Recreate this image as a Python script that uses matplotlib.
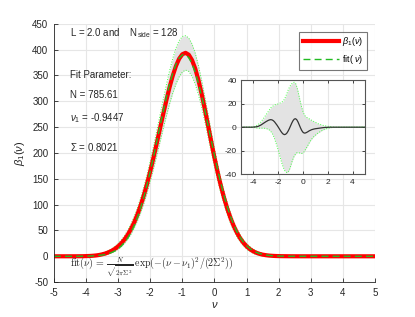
import matplotlib
matplotlib.use("Agg")
import matplotlib.pyplot as plt
import numpy as np

plt.rcParams['font.family'] = ['Liberation Sans', 'DejaVu Sans']
plt.rcParams['mathtext.fontset'] = 'custom'
plt.rcParams['mathtext.rm'] = 'Liberation Sans'
plt.rcParams['mathtext.it'] = 'Liberation Sans:italic'
plt.rcParams['axes.unicode_minus'] = False

# fit parameters shown on the chart
N_fit = 785.61
nu_1 = -0.9447
Sigma = 0.8021

# sample points in nu, -5 ... 5 step 0.1
nu = np.round(np.linspace(-5.0, 5.0, 101), 2)

# residual beta_1 - fit
residual = [0, 0, 0, 0, 0, 0, 0, 0, 0, 0,
            0.1, 0.15, 0.3, 0.5, 0.8, 1.3, 1.8, 2.5, 3.2, 3.9, 4.6,
            5.2, 5.8, 6.2, 6.4, 6.2, 5.6, 4.6, 3.2, 1.8, 0.2,
            -1.5, -3.2, -4.7, -5.8, -6.3, -6.0, -5.0, -3.3, -1.2, 1.2,
            3.6, 5.6, 6.9, 7.2, 6.3, 4.4, 1.9, -0.6, -2.8, -4.3,
            -5.0, -4.9, -4.4, -3.8, -3.1, -2.6, -2.1, -1.8, -1.5, -1.3,
            -1.15, -1.0, -0.85, -0.7, -0.55, -0.4, -0.3, -0.2, -0.15, -0.1,
            -0.05, 0, 0, 0, 0,
            0, 0, 0, 0, 0, 0, 0, 0, 0, 0, 0, 0, 0, 0, 0, 0, 0, 0, 0, 0, 0, 0, 0, 0, 0]

# half width of the grey error band
band = [0, 0, 0, 0, 0, 0, 0, 0, 0, 0,
        0.3, 0.5, 0.8, 1.2, 1.6, 2.1, 2.6, 3.3, 4.0, 4.8, 5.7,
        6.6, 7.5, 8.7, 10, 11.2, 12.5, 14.2, 16, 17.7, 19.5,
        21.7, 24, 26, 28, 30, 32, 33.5, 34.7, 35, 34.3,
        33.3, 32.3, 31.2, 30, 28, 26, 23.7, 21.5, 19.5, 17.5,
        15.7, 14, 12.7, 11.5, 10.2, 9, 8, 7, 6.2, 5.5,
        4.7, 4, 3.5, 3, 2.5, 2, 1.7, 1.4, 1.1, 0.9,
        0.7, 0.5, 0.35, 0.2, 0.1,
        0, 0, 0, 0, 0, 0, 0, 0, 0, 0, 0, 0, 0, 0, 0, 0, 0, 0, 0, 0, 0, 0, 0, 0, 0]

residual = np.array(residual)
band = np.array(band)
fit = N_fit / np.sqrt(2 * np.pi * Sigma**2) * np.exp(-(nu - nu_1)**2 / (2 * Sigma**2))
beta = fit + residual

axcol = '#262626'
gridcol = '#e6e6e6'
fillcol = '#e3e3e3'
edgecol = '#44ff44'

fig = plt.figure(figsize=(4.15, 3.17), dpi=100)
ax = fig.add_axes([0.130, 0.110, 0.7735, 0.815])

ax.fill_between(nu, beta - band, beta + band, color=fillcol, lw=0)
ax.plot(nu, beta + band, color=edgecol, ls=':', lw=0.7)
ax.plot(nu, beta - band, color=edgecol, ls=':', lw=0.7)
ax.plot(nu, beta, color='red', lw=3, label=r'$\beta_1(\nu)$')
ax.plot(nu, fit, color='#22bb22', ls='--', lw=1, dashes=(5, 3), label=r'fit( $\nu$)')

ax.set_xlim(-5, 5)
ax.set_ylim(-50, 450)
ax.set_xticks(np.arange(-5, 6, 1))
ax.set_yticks(np.arange(-50, 451, 50))
ax.grid(True, color=gridcol, lw=0.8)
ax.set_axisbelow(True)
for s in ['top', 'right']:
    ax.spines[s].set_visible(False)
for s in ['left', 'bottom']:
    ax.spines[s].set_color(axcol)
    ax.spines[s].set_linewidth(0.6)
ax.tick_params(direction='in', length=3, width=0.6, color=axcol,
               labelsize=7, labelcolor=axcol, pad=4)
ax.set_xlabel(r'$\nu$', fontsize=8, labelpad=2, color=axcol)
ax.set_ylabel(r'$\beta_1(\nu)$', fontsize=8, labelpad=4, color=axcol)

leg = ax.legend(loc='upper right', bbox_to_anchor=(0.974, 0.969), borderaxespad=0,
                fontsize=6.5, frameon=True, fancybox=False, handlelength=4,
                borderpad=0.4, labelspacing=0.5, handletextpad=0.3)
leg.get_frame().set_edgecolor('#555555')
leg.get_frame().set_linewidth(0.8)

ax.text(-4.5, 432, r'L = 2.0 and    N$_{\mathrm{side}}$ = 128', fontsize=7,
        color=axcol, va='center')
ax.text(-4.5, 351, 'Fit Parameter:', fontsize=7, color=axcol, va='center')
ax.text(-4.5, 312, 'N = 785.61', fontsize=7, color=axcol, va='center')
ax.text(-4.5, 267, r'$\nu_1$ = -0.9447', fontsize=7, color=axcol, va='center')
ax.text(-4.5, 211, r'$\Sigma$ = 0.8021', fontsize=7, color=axcol, va='center')
ax.text(-4.5, -21, r'$\mathrm{fit}(\nu)\, =\, \frac{N}{\sqrt{2\pi\Sigma^2}}\, \exp(-(\nu-\nu_1)^2/(2\Sigma^2))$',
        fontsize=7.2, color=axcol, va='center', math_fontfamily='cm')

# inset: residual
ins = fig.add_axes([0.5807, 0.450, 0.2988, 0.2975])
ins.fill_between(nu, residual - band, residual + band, color=fillcol, lw=0)
ins.plot(nu, residual + band, color=edgecol, ls=':', lw=0.7)
ins.plot(nu, residual - band, color=edgecol, ls=':', lw=0.7)
ins.plot(nu, residual, color='#333333', lw=0.9)
ins.set_xlim(-5, 5)
ins.set_ylim(-40, 40)
ins.set_xticks([-4, -2, 0, 2, 4])
ins.set_yticks([-40, -20, 0, 20, 40])
ins.grid(True, color=gridcol, lw=0.8)
ins.set_axisbelow(True)
for s in ins.spines.values():
    s.set_color('#555555')
    s.set_linewidth(0.8)
ins.tick_params(direction='in', length=2.5, width=0.6, color=axcol,
                labelsize=6, labelcolor=axcol, top=True, right=True, pad=3)

fig.savefig('out.png', dpi=100)
